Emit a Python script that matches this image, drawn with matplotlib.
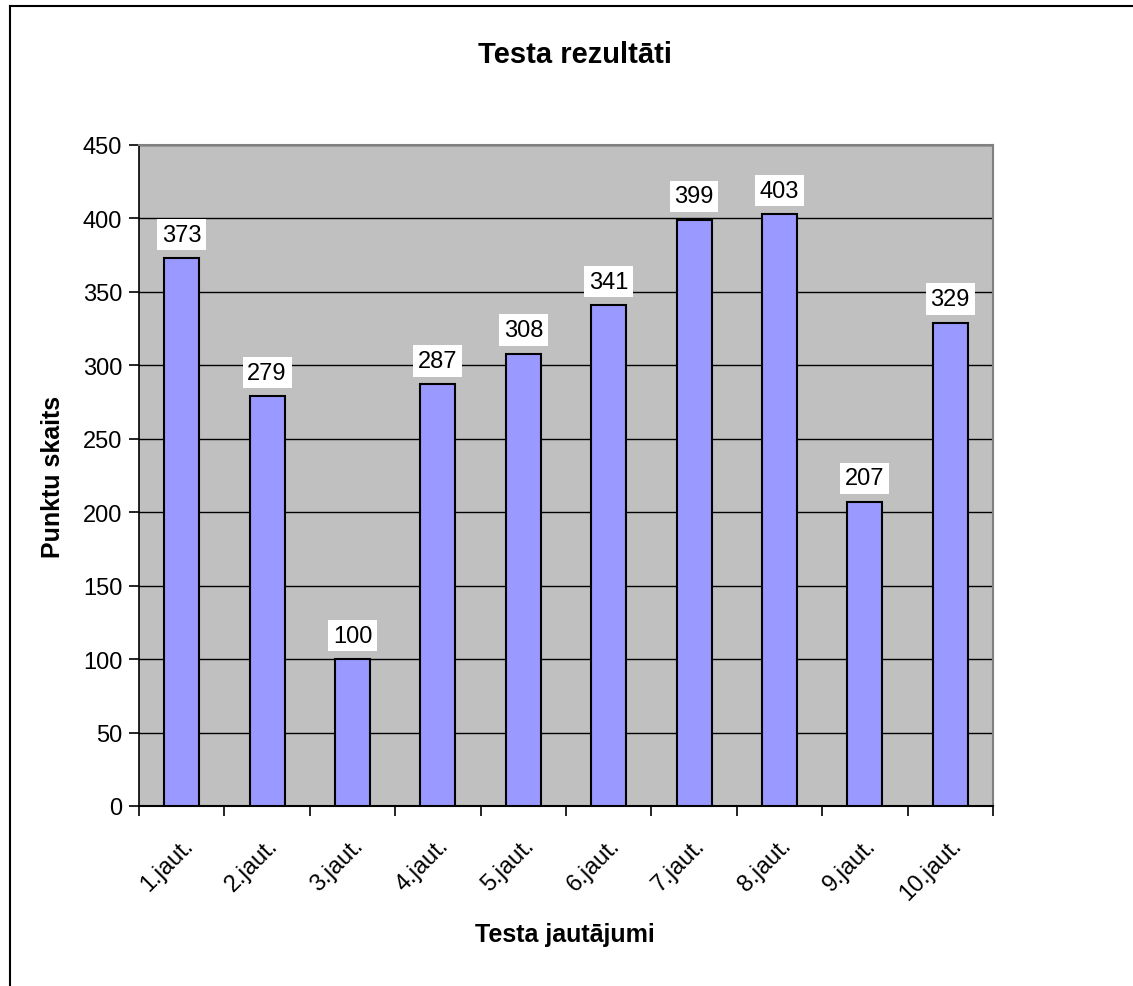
import matplotlib.pyplot as plt
from matplotlib.transforms import ScaledTranslation

categories = ["1.jaut.", "2.jaut.", "3.jaut.", "4.jaut.", "5.jaut.",
              "6.jaut.", "7.jaut.", "8.jaut.", "9.jaut.", "10.jaut."]
points = [373, 279, 100, 287, 308, 341, 399, 403, 207, 329]
yticks = [0, 50, 100, 150, 200, 250, 300, 350, 400, 450]

plt.rcParams["font.family"] = ["Liberation Sans", "DejaVu Sans"]

fig = plt.figure(figsize=(11.33, 9.87), dpi=100)
ax = fig.add_axes([0.1227, 0.1824, 0.7537, 0.6697])

# chart area border (only top and left are visible in the crop)
fig.add_artist(plt.Line2D([0.0088, 0.0088], [0, 0.9925], color="black", lw=1.5,
                          transform=fig.transFigure))
fig.add_artist(plt.Line2D([0.0088, 1.0], [0.9925, 0.9925], color="black", lw=1.5,
                          transform=fig.transFigure))

x = list(range(len(categories)))
ax.set_facecolor("#C0C0C0")
ax.bar(x, points, width=0.41, color="#9999FF", edgecolor="black", linewidth=1.5, zorder=3)

for xi, v in zip(x, points):
    ax.annotate(str(v), (xi, v), xytext=(0, 9), textcoords="offset points",
                ha="center", va="bottom", fontsize=17, zorder=5,
                bbox=dict(boxstyle="square,pad=0.2", fc="white", ec="none"))

ax.set_xlim(-0.5, len(categories) - 0.5)
ax.set_ylim(0, 450)
ax.set_yticks(yticks)
ax.yaxis.grid(True, color="black", linewidth=1, zorder=1)
ax.set_axisbelow(True)

ax.set_xticks([i - 0.5 for i in range(len(categories) + 1)])
ax.set_xticklabels([])
ax.set_xticks(x, minor=True)
ax.set_xticklabels(categories, minor=True, rotation=45, ha="right",
                   rotation_mode="anchor", fontsize=17)
shift = ScaledTranslation(-14 / 72, 0, fig.dpi_scale_trans)
for lbl in ax.get_xticklabels(minor=True):
    lbl.set_transform(lbl.get_transform() + shift)
ax.tick_params(axis="x", which="minor", length=0, pad=20)
ax.tick_params(axis="x", which="major", length=7, width=1.2, direction="out")
ax.tick_params(axis="y", length=7, width=1.2, labelsize=17, pad=5)

for side in ["top", "right"]:
    ax.spines[side].set_color("#808080")
    ax.spines[side].set_linewidth(1.5)
ax.spines["left"].set_linewidth(1.2)
ax.spines["bottom"].set_linewidth(1.5)

fig.text(0.5075, 0.9443, "Testa rezultāti", fontsize=21, fontweight="bold",
         ha="center", va="center")
ax.set_xlabel("Testa jautājumi", fontsize=18, fontweight="bold", va="center")
ax.xaxis.set_label_coords(0.499, -0.194)
ax.set_ylabel("Punktu skaits", fontsize=18, fontweight="bold", va="center")
ax.yaxis.set_label_coords(-0.1007, 0.499)

fig.savefig("out.png", dpi=100)
